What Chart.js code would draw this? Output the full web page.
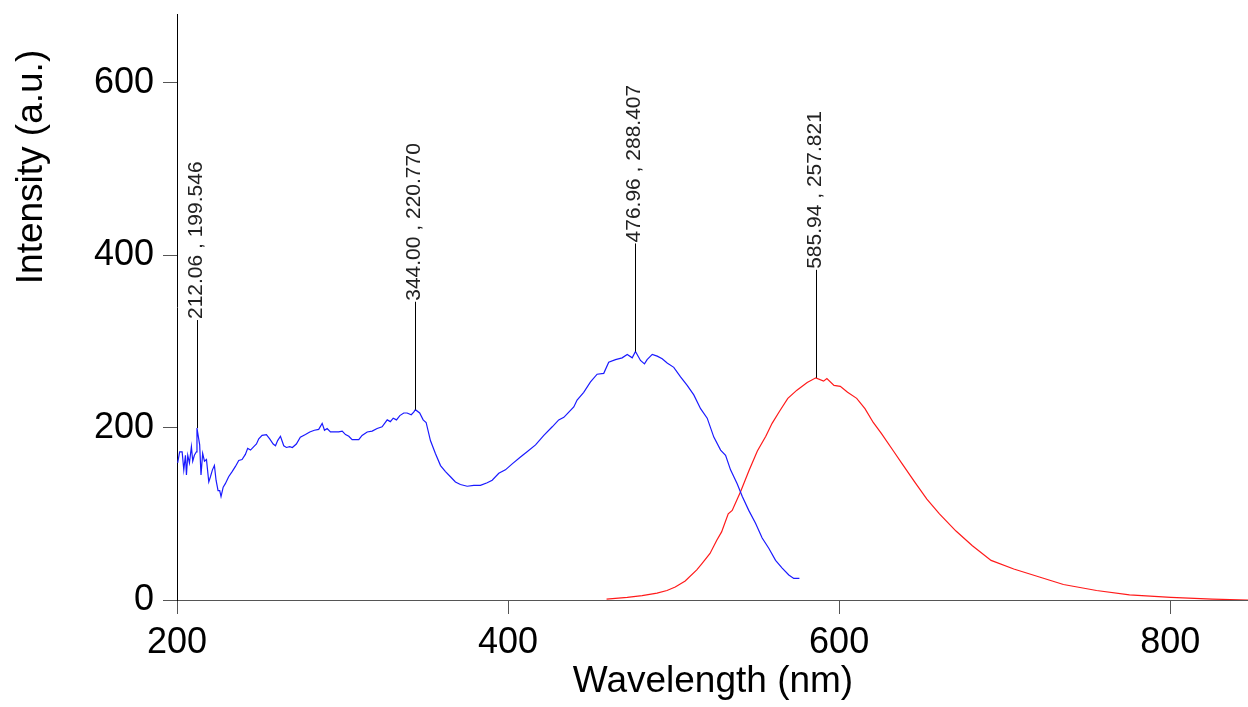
<!DOCTYPE html>
<html>
<head>
<meta charset="utf-8">
<script src="https://cdn.jsdelivr.net/npm/chart.js@4.4.1/dist/chart.umd.min.js"></script>
<style>
  html, body { margin: 0; padding: 0; background: #fff; }
  #wrap { width: 1248px; height: 707px; }
</style>
</head>
<body>
<div id="wrap"><canvas id="spectrumChart" width="1248" height="707"></canvas></div>
<script>
// excitation spectrum (blue)
const blueX = [200.4, 201.6, 203.1, 204.1, 205.1, 205.7, 206.5, 207.5, 208.7, 209.5, 210.5, 211.7, 212.06,
  213.7, 214.5, 215.5, 216.6, 217.8, 219.2, 220.2, 221.4, 222.6, 223.6, 224.8, 225.8, 226.6, 227.9, 229.2,
  231.2, 233.3, 235.3, 237.3, 239.3, 241.3, 242.7, 244.4, 246.4, 248, 249.4, 251.4, 254, 256, 258.1, 259.5,
  260.8, 262.5, 264.5, 266.1, 268.1, 269.7, 272.1, 274.5, 277.6, 280.2, 283, 285.6, 287.7, 289.1, 290.7,
  292.7, 294.7, 297.7, 299.8, 301.8, 303.8, 305.8, 307.8, 309.8, 311.8, 314.9, 317.9, 320.9, 323.9, 327,
  328.9, 330.6, 332.6, 334.6, 337, 339, 341.5, 343, 344.0, 346.6, 348.7, 350.5, 353.1, 356.1, 359.2, 362.2,
  365.2, 368.2, 371.2, 375.3, 379.3, 383.3, 387.4, 390.4, 394.4, 398.4, 402.5, 407.5, 411.5, 416.6, 421.6,
  426.7, 430.6, 433.7, 436.7, 439.7, 441.7, 445.7, 449.8, 453.8, 457.8, 460.8, 464.9, 468.9, 472, 475,
  476.96, 480, 482.4, 484, 487.1, 490.1, 493.1, 496.1, 500.1, 504.2, 508.2, 512.2, 516.3, 520.3, 524.3,
  528.4, 531.4, 534.4, 538.4, 541.5, 545.4, 549.5, 553.5, 557.5, 561.6, 565.6, 569.6, 572.6, 576];
const blueY = [159, 172, 172, 151, 168, 145, 168, 159, 178, 161, 168, 172, 199.5,
  180, 145, 170, 161, 163, 137, 143, 151, 156, 139, 127, 127, 120, 131, 135,
  143, 149, 155, 162, 163, 169, 176, 174, 178, 181, 187, 191, 192, 187, 181, 179,
  185, 190, 179, 177, 178, 177, 181, 189, 192, 195, 197, 198, 205, 197, 199,
  195, 195, 195, 196, 192, 190, 186, 186, 186, 191, 195, 196, 199, 201, 209,
  207, 211, 209, 214, 217, 217, 215, 218, 220.8, 217, 209, 206, 185, 170, 156, 149,
  143, 137, 134, 132, 133, 133, 136, 139, 147, 151, 158, 166, 172, 180, 191,
  201, 209, 212, 218, 224, 232, 241, 253, 262, 263, 276, 279, 281, 285, 281,
  288.4, 278, 274, 279, 285, 283, 280, 275, 270, 259, 249, 238, 222, 211, 189,
  174, 168, 151, 135, 120, 104, 89, 72, 60, 46, 37, 29, 25, 25];

// emission spectrum (red)
const redX = [459.5, 472, 481, 490, 496, 501, 507, 514, 517, 522, 526, 529, 533, 535.4, 540.5, 545.5,
  550.6, 555.7, 559.5, 564, 569, 574.5, 580.7, 585.94, 590.6, 592.6, 596.9, 600.7, 605.1, 610.6, 615.6,
  620.6, 625.6, 633.1, 638.1, 645.6, 653, 660.6, 670.6, 680.5, 691.8, 705.5, 720.5, 735.5, 755.5, 775.4,
  800.4, 825.4, 847];
const redY = [1, 3, 5, 8, 11, 15, 22, 35, 42, 54, 69, 79, 100, 104, 126, 150,
  173, 190, 205, 219, 234, 243.5, 252.5, 257.8, 254, 257, 249, 248, 241, 234, 222,
  206, 193, 172, 158, 137, 117, 100, 80, 63, 46, 36, 27, 18, 11, 6,
  3, 1, 0];

// peak markers
const peakX = [212.06, 344.00, 476.96, 585.94];
const peakY = [199.546, 220.770, 288.407, 257.821];

const xTicks = [200, 400, 600, 800];
const yTicks = [0, 200, 400, 600];

const FONT = '"Liberation Sans", Arial, sans-serif';

const toPoints = (xs, ys) => xs.map((x, i) => ({ x: x, y: ys[i] }));

const peakMarkers = {
  id: 'peakMarkers',
  afterDatasetsDraw(chart) {
    const ctx = chart.ctx;
    const xs = chart.scales.x;
    const ys = chart.scales.y;
    ctx.save();
    peakX.forEach((px, i) => {
      const x = Math.round(xs.getPixelForValue(px)) + 0.5;
      const y = ys.getPixelForValue(peakY[i]);
      const top = y - 108;
      ctx.strokeStyle = '#000';
      ctx.lineWidth = 1;
      ctx.beginPath();
      ctx.moveTo(x, y);
      ctx.lineTo(x, top);
      ctx.stroke();

      ctx.save();
      ctx.translate(x - 1, top);
      ctx.rotate(-Math.PI / 2);
      ctx.fillStyle = '#222';
      ctx.font = '21px ' + FONT;
      ctx.textAlign = 'left';
      ctx.textBaseline = 'middle';
      ctx.fillText(px.toFixed(2) + ' , ' + peakY[i].toFixed(3), 1, 0);
      ctx.restore();
    });
    ctx.restore();
  },
  afterDraw(chart) {
    const ctx = chart.ctx;
    ctx.save();
    ctx.fillStyle = '#000';
    ctx.font = '37px ' + FONT;
    ctx.textBaseline = 'alphabetic';
    ctx.textAlign = 'center';
    ctx.fillText('Wavelength (nm)', 713, 692);

    ctx.translate(42, 167);
    ctx.rotate(-Math.PI / 2);
    ctx.fillText('Intensity (a.u.)', 0, 0);
    ctx.restore();
  }
};

// axes sized by hand so the plot area sits where it does in the original
const noLabelPadding = (scale) => {
  scale.paddingTop = 0;
  scale.paddingBottom = 0;
  scale.paddingLeft = 0;
  scale.paddingRight = 0;
};

new Chart(document.getElementById('spectrumChart').getContext('2d'), {
  type: 'line',
  data: {
    datasets: [
      {
        label: 'Excitation',
        data: toPoints(blueX, blueY),
        borderColor: '#1a1aff',
        borderWidth: 1.2,
        pointRadius: 0,
        tension: 0,
        fill: false,
      },
      {
        label: 'Emission',
        data: toPoints(redX, redY),
        borderColor: '#ff1a1a',
        borderWidth: 1.2,
        pointRadius: 0,
        tension: 0,
        fill: false,
      },
    ],
  },
  options: {
    responsive: false,
    animation: false,
    devicePixelRatio: 1,
    layout: { padding: { top: 14, right: 0, left: 0, bottom: 0 } },
    plugins: {
      legend: { display: false },
      tooltip: { enabled: false },
    },
    scales: {
      x: {
        type: 'linear',
        min: 200,
        max: 847,
        afterBuildTicks: (scale) => { scale.ticks = xTicks.map(v => ({ value: v })); },
        afterFit: (scale) => { scale.height = 107; noLabelPadding(scale); },
        grid: { display: true, drawOnChartArea: false, drawTicks: true, tickLength: 14, color: '#555' },
        border: { display: true, color: '#555', width: 1 },
        ticks: { color: '#000', padding: 7, maxRotation: 0, font: { family: FONT, size: 36 } },
      },
      y: {
        type: 'linear',
        min: 0,
        max: 680,
        afterBuildTicks: (scale) => { scale.ticks = yTicks.map(v => ({ value: v })); },
        afterFit: (scale) => { scale.width = 177; noLabelPadding(scale); },
        grid: { display: true, drawOnChartArea: false, drawTicks: true, tickLength: 14, color: '#555' },
        border: { display: true, color: '#000', width: 1 },
        ticks: { color: '#000', padding: 9, font: { family: FONT, size: 36 } },
      },
    },
  },
  plugins: [peakMarkers],
});
</script>
</body>
</html>
